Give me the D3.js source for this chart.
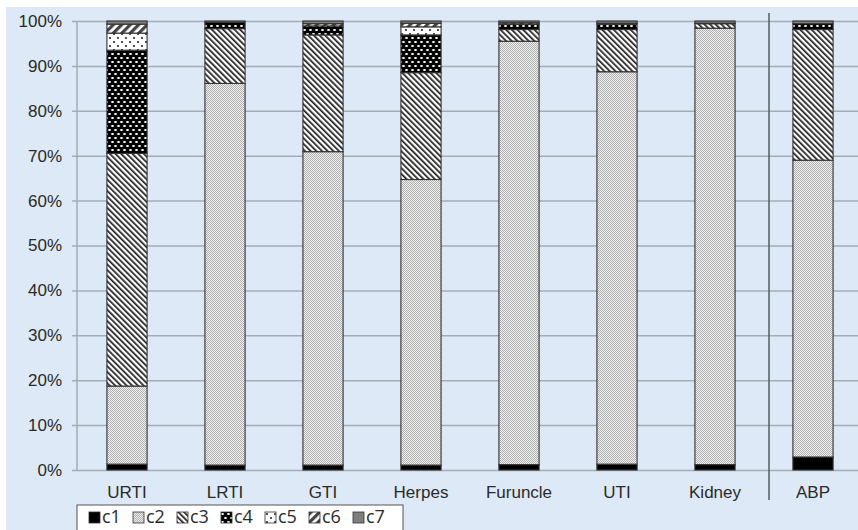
<!DOCTYPE html>
<html>
<head>
<meta charset="utf-8">
<script src="https://cdn.jsdelivr.net/npm/d3@7"></script>
<style>
  body { margin: 0; background: #ffffff; }
  svg { display: block; font-family: "Open Sans", "Noto Sans", sans-serif; }
</style>
</head>
<body>
<svg id="chart" width="858" height="530"></svg>
<script>
// categories and series (percent of each bar)
const categories = ["URTI", "LRTI", "GTI", "Herpes", "Furuncle", "UTI", "Kidney", "ABP"];
const seriesKeys = ["c1", "c2", "c3", "c4", "c5", "c6", "c7"];
const c1 = [1.3, 1.1, 1.1, 1.1, 1.2, 1.3, 1.2, 2.9];
const c2 = [17.4, 85.0, 69.8, 63.6, 94.3, 87.4, 97.2, 66.1];
const c3 = [51.8, 12.2, 26.0, 23.8, 2.6, 9.4, 1.0, 29.1];
const c4 = [23.0, 1.4, 2.0, 8.4, 1.2, 1.2, 0.1, 1.3];
const c5 = [3.8, 0, 0, 1.8, 0, 0, 0, 0];
const c6 = [2.0, 0, 0.5, 0.8, 0.3, 0.2, 0, 0];
const c7 = [0.7, 0.3, 0.6, 0.5, 0.4, 0.5, 0.5, 0.6];
const yTicks = [0, 10, 20, 30, 40, 50, 60, 70, 80, 90, 100];

const seriesValues = { c1, c2, c3, c4, c5, c6, c7 };
const rows = categories.map((cat, i) => {
  const row = { cat: cat };
  seriesKeys.forEach(k => { row[k] = seriesValues[k][i]; });
  return row;
});

const svg = d3.select("#chart");
const W = 858, H = 530;
const M = { left: 78, right: 862, top: 21, bottom: 470 };

// background panel
svg.append("rect")
  .attr("x", 6).attr("y", 7)
  .attr("width", W - 6).attr("height", H - 7)
  .attr("fill", "#dde9f6");

// patterns
const defs = svg.append("defs");

let p = defs.append("pattern").attr("id", "p-c2")
  .attr("patternUnits", "userSpaceOnUse").attr("width", 2).attr("height", 2);
p.append("rect").attr("width", 2).attr("height", 2).attr("fill", "#efefef");
p.append("rect").attr("width", 1).attr("height", 1).attr("fill", "#b0b0b0");
p.append("rect").attr("x", 1).attr("y", 1).attr("width", 1).attr("height", 1).attr("fill", "#b0b0b0");

p = defs.append("pattern").attr("id", "p-c3")
  .attr("patternUnits", "userSpaceOnUse").attr("width", 4).attr("height", 4)
  .attr("patternTransform", "rotate(-45)");
p.append("rect").attr("width", 4).attr("height", 4).attr("fill", "#ffffff");
p.append("rect").attr("width", 1.7).attr("height", 4).attr("fill", "#1e1e1e");

p = defs.append("pattern").attr("id", "p-c4")
  .attr("patternUnits", "userSpaceOnUse").attr("width", 6).attr("height", 8);
p.append("rect").attr("width", 6).attr("height", 8).attr("fill", "#000");
p.append("ellipse").attr("cx", 1.5).attr("cy", 2).attr("rx", 1.5).attr("ry", 0.9).attr("fill", "#fff");
p.append("ellipse").attr("cx", 4.5).attr("cy", 6).attr("rx", 1.5).attr("ry", 0.9).attr("fill", "#fff");

p = defs.append("pattern").attr("id", "p-c5")
  .attr("patternUnits", "userSpaceOnUse").attr("width", 8).attr("height", 8);
p.append("rect").attr("width", 8).attr("height", 8).attr("fill", "#fff");
p.append("circle").attr("cx", 2).attr("cy", 2).attr("r", 0.9).attr("fill", "#000");
p.append("circle").attr("cx", 6).attr("cy", 6).attr("r", 0.9).attr("fill", "#000");

p = defs.append("pattern").attr("id", "p-c6")
  .attr("patternUnits", "userSpaceOnUse").attr("width", 6).attr("height", 6)
  .attr("patternTransform", "rotate(45)");
p.append("rect").attr("width", 6).attr("height", 6).attr("fill", "#fff");
p.append("rect").attr("width", 3.2).attr("height", 6).attr("fill", "#444");

const fills = {
  c1: "#000000",
  c2: "url(#p-c2)",
  c3: "url(#p-c3)",
  c4: "url(#p-c4)",
  c5: "url(#p-c5)",
  c6: "url(#p-c6)",
  c7: "#7f7f7f"
};

// scales
const x = d3.scaleBand()
  .domain(categories)
  .range([M.left, M.right])
  .paddingInner(0.59)
  .paddingOuter(0.295);

const y = d3.scaleLinear()
  .domain([0, 100])
  .range([M.bottom, M.top]);

// y axis with gridlines
const yAxis = d3.axisLeft(y)
  .tickValues(yTicks)
  .tickSize(-(W - 72))
  .tickPadding(10)
  .tickFormat(d => d + "%");

const gy = svg.append("g")
  .attr("transform", "translate(72,0)")
  .call(yAxis);
gy.select(".domain").remove();
gy.selectAll(".tick line")
  .attr("stroke", "#a4adb6")
  .attr("stroke-width", 1.5);
gy.selectAll(".tick text")
  .attr("fill", "#2a2a2a")
  .style("font-size", "17px");

// vertical axis line
svg.append("line")
  .attr("x1", 77).attr("x2", 77)
  .attr("y1", y(100)).attr("y2", y(0))
  .attr("stroke", "#a4adb6")
  .attr("stroke-width", 1.5);

// x axis labels
const xAxis = d3.axisBottom(x).tickSize(0).tickPadding(16);
const gx = svg.append("g")
  .attr("transform", "translate(0," + M.bottom + ")")
  .call(xAxis);
gx.select(".domain").remove();
gx.selectAll(".tick text")
  .attr("fill", "#2a2a2a")
  .style("font-size", "17px");

// stacked bars
const stacked = d3.stack().keys(seriesKeys)(rows);

svg.append("g")
  .selectAll("g")
  .data(stacked)
  .join("g")
  .attr("fill", d => fills[d.key])
  .selectAll("rect")
  .data(d => d)
  .join("rect")
  .attr("x", d => x(d.data.cat))
  .attr("width", x.bandwidth())
  .attr("y", d => y(d[1]))
  .attr("height", d => y(d[0]) - y(d[1]))
  .attr("stroke", "#333")
  .attr("stroke-width", 1.1);

// separator between Kidney and ABP
const sepX = (x("Kidney") + x("ABP") + x.bandwidth()) / 2 + 5;
svg.append("line")
  .attr("x1", sepX).attr("x2", sepX)
  .attr("y1", 13).attr("y2", 500)
  .attr("stroke", "#555c63")
  .attr("stroke-width", 1.5);

// legend
const legend = svg.append("g");
legend.append("rect")
  .attr("x", 77).attr("y", 505)
  .attr("width", 326).attr("height", 30)
  .attr("fill", "#ffffff")
  .attr("stroke", "#555")
  .attr("stroke-width", 1);

const li = legend.selectAll("g.item")
  .data(seriesKeys)
  .join("g")
  .attr("class", "item")
  .attr("transform", (d, i) => "translate(" + (89 + i * 44) + ",512)");
li.append("rect")
  .attr("width", 11).attr("height", 11)
  .attr("fill", d => fills[d])
  .attr("stroke", "#333")
  .attr("stroke-width", 0.8);
li.append("text")
  .attr("x", 13).attr("y", 11)
  .attr("fill", "#2a2a2a")
  .style("font-size", "18px")
  .text(d => d);
</script>
</body>
</html>
